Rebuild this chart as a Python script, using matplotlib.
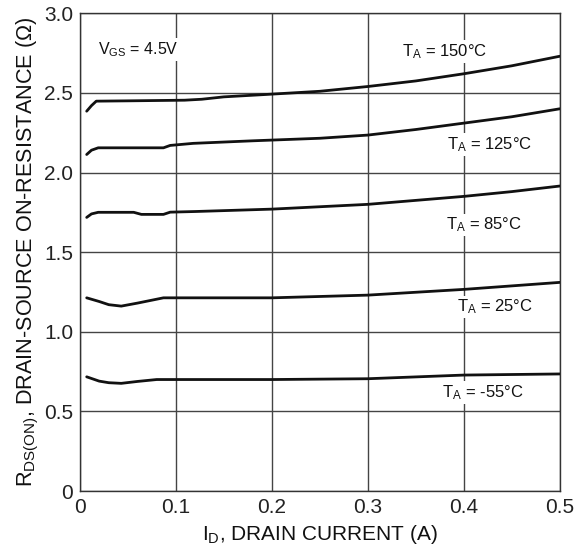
import matplotlib
matplotlib.use("Agg")
import matplotlib.pyplot as plt

plt.rcParams['font.family'] = ['Liberation Sans', 'DejaVu Sans']
plt.rcParams['mathtext.fontset'] = 'custom'
plt.rcParams['mathtext.rm'] = 'Liberation Sans'
plt.rcParams['mathtext.it'] = 'Liberation Sans'

# Drain current (A) and on-resistance (Ohm) per ambient temperature
x_150 = [0.007, 0.012, 0.017, 0.05, 0.109, 0.127, 0.15, 0.194, 0.25, 0.3, 0.35, 0.4, 0.45, 0.5]
y_150 = [2.385, 2.42, 2.448, 2.45, 2.454, 2.46, 2.475, 2.49, 2.51, 2.54, 2.575, 2.62, 2.67, 2.73]

x_125 = [0.007, 0.012, 0.019, 0.05, 0.087, 0.094, 0.118, 0.18, 0.25, 0.3, 0.35, 0.4, 0.45, 0.5]
y_125 = [2.113, 2.14, 2.155, 2.155, 2.155, 2.17, 2.183, 2.199, 2.215, 2.235, 2.27, 2.31, 2.35, 2.40]

x_85 = [0.007, 0.012, 0.019, 0.056, 0.064, 0.087, 0.094, 0.12, 0.2, 0.3, 0.4, 0.45, 0.5]
y_85 = [1.718, 1.74, 1.75, 1.75, 1.737, 1.737, 1.751, 1.755, 1.77, 1.80, 1.85, 1.88, 1.915]

x_25 = [0.007, 0.02, 0.03, 0.043, 0.06, 0.087, 0.1, 0.2, 0.3, 0.4, 0.5]
y_25 = [1.213, 1.19, 1.17, 1.161, 1.18, 1.213, 1.213, 1.213, 1.23, 1.266, 1.31]

x_m55 = [0.007, 0.02, 0.03, 0.043, 0.06, 0.08, 0.1, 0.2, 0.3, 0.4, 0.5]
y_m55 = [0.717, 0.69, 0.68, 0.676, 0.688, 0.70, 0.70, 0.70, 0.705, 0.728, 0.735]

curve_labels = [r"T$_{\mathrm{A}}$ = 150°C", r"T$_{\mathrm{A}}$ = 125°C", r"T$_{\mathrm{A}}$ = 85°C",
                r"T$_{\mathrm{A}}$ = 25°C", r"T$_{\mathrm{A}}$ = -55°C"]
label_pos = [(0.336, 2.76), (0.382, 2.175), (0.381, 1.67), (0.393, 1.155), (0.377, 0.62)]

xticks = [0, 0.1, 0.2, 0.3, 0.4, 0.5]
xticklabels = ["0", "0.1", "0.2", "0.3", "0.4", "0.5"]
yticks = [0, 0.5, 1.0, 1.5, 2.0, 2.5, 3.0]
yticklabels = ["0", "0.5", "1.0", "1.5", "2.0", "2.5", "3.0"]

fig = plt.figure(figsize=(5.88, 5.52), dpi=100)
ax = fig.add_axes([0.136, 0.1105, 0.816, 0.8655])

ax.set_xlim(0, 0.5)
ax.set_ylim(0, 3.0)
ax.set_xticks(xticks)
ax.set_xticklabels(xticklabels)
ax.set_yticks(yticks)
ax.set_yticklabels(yticklabels)
ax.tick_params(length=0, labelsize=15, pad=5, colors='#222222')
ax.grid(True, color='#444444', linewidth=1.0)
ax.set_axisbelow(True)
for s in ax.spines.values():
    s.set_color('#333333')
    s.set_linewidth(1.0)

for xs, ys in [(x_150, y_150), (x_125, y_125), (x_85, y_85), (x_25, y_25), (x_m55, y_m55)]:
    ax.plot(xs, ys, color='#111111', linewidth=2.0, solid_capstyle='round', zorder=3)

for txt, (tx, ty) in zip(curve_labels, label_pos):
    ax.text(tx, ty, txt, fontsize=12, ha='left', va='center', color='#111111',
            bbox=dict(facecolor='white', edgecolor='none', pad=1.5), zorder=4)

ax.text(0.019, 2.77, r"V$_{\mathrm{GS}}$ = 4.5V", fontsize=11.5, ha='left', va='center', color='#111111',
        bbox=dict(facecolor='white', edgecolor='none', pad=1.5), zorder=4)

ax.set_xlabel(r"I$_{\mathrm{D}}$, DRAIN CURRENT (A)", fontsize=15, color='#111111', labelpad=4)
ax.set_ylabel(r"R$_{\mathrm{DS(ON)}}$, DRAIN-SOURCE ON-RESISTANCE (Ω)", fontsize=15.6, color='#111111', labelpad=2)

fig.savefig("out.png", dpi=100)
